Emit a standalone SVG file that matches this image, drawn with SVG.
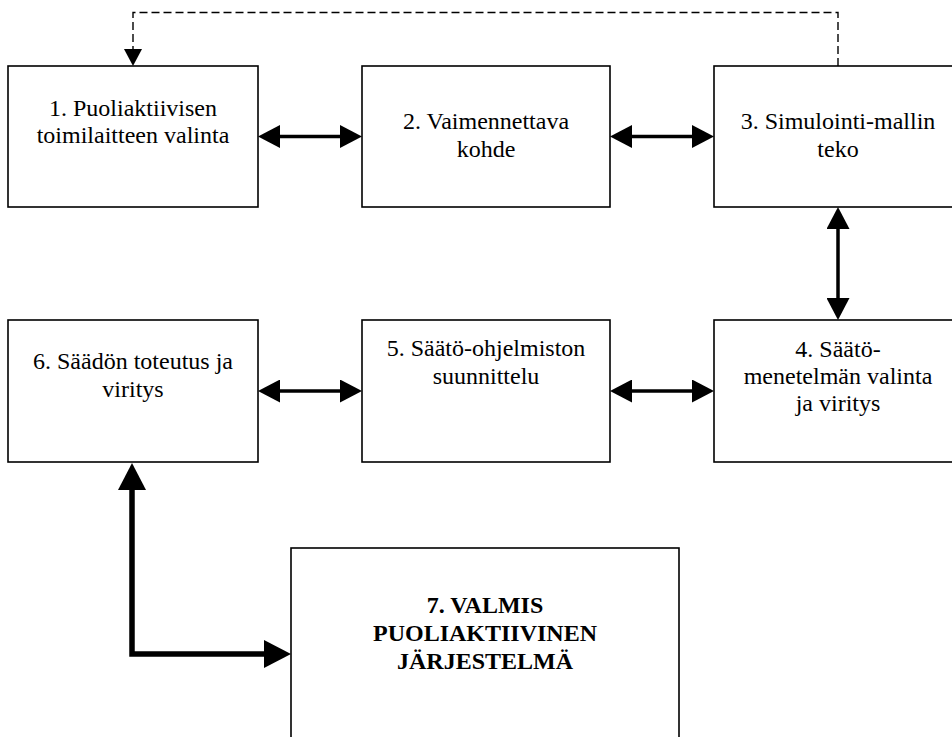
<svg xmlns="http://www.w3.org/2000/svg" width="952" height="737" viewBox="0 0 952 737">
<style>
.box{fill:#fff;stroke:#000;stroke-width:1.6}
.t{font-family:'Liberation Serif','Times New Roman',serif;font-size:24px;fill:#000;text-anchor:middle}
.b{font-weight:bold}
.c{fill:none;stroke:#000;stroke-width:3.5}
.cb{fill:none;stroke:#000;stroke-width:5.5;stroke-linejoin:miter}
.d{fill:none;stroke:#000;stroke-width:1.4;stroke-dasharray:8 4}
</style>
<defs>
<marker id="h" viewBox="0 0 22 23" markerWidth="22" markerHeight="23" refX="1" refY="11.5" markerUnits="userSpaceOnUse" orient="auto-start-reverse"><path d="M0,0 L22,11.5 L0,23 z" fill="#000"/></marker>
<marker id="H" viewBox="0 0 27 28" markerWidth="27" markerHeight="28" refX="1" refY="14" markerUnits="userSpaceOnUse" orient="auto-start-reverse"><path d="M0,0 L27,14 L0,28 z" fill="#000"/></marker>
<marker id="s" viewBox="0 0 17 18" markerWidth="17" markerHeight="18" refX="1" refY="9" markerUnits="userSpaceOnUse" orient="auto"><path d="M0,0 L17,9 L0,18 z" fill="#000"/></marker>
</defs>
<rect width="952" height="737" fill="#fff"/>
<g id="connectors">
<path class="d" d="M838,66 V12.5 H133 V50" marker-end="url(#s)"/>
<line class="c" x1="279" y1="136.5" x2="341" y2="136.5" marker-start="url(#h)" marker-end="url(#h)"/>
<line class="c" x1="631" y1="136.5" x2="693" y2="136.5" marker-start="url(#h)" marker-end="url(#h)"/>
<line class="c" x1="838" y1="228" x2="838" y2="299" marker-start="url(#h)" marker-end="url(#h)"/>
<line class="c" x1="279" y1="391" x2="341" y2="391" marker-start="url(#h)" marker-end="url(#h)"/>
<line class="c" x1="631" y1="391" x2="693" y2="391" marker-start="url(#h)" marker-end="url(#h)"/>
<path class="cb" d="M132,489 V654 H265" marker-start="url(#H)" marker-end="url(#H)"/>
</g>
<g id="n1"><rect class="box" x="8" y="66" width="250" height="141"/>
<text class="t" x="133" y="116">1. Puoliaktiivisen</text><text class="t" x="133" y="143">toimilaitteen valinta</text></g>
<g id="n2"><rect class="box" x="362" y="66" width="248" height="141"/>
<text class="t" x="486" y="129">2. Vaimennettava</text><text class="t" x="486" y="157">kohde</text></g>
<g id="n3"><rect class="box" x="714" y="66" width="250" height="141"/>
<text class="t" x="838" y="129">3. Simulointi-mallin</text><text class="t" x="838" y="157">teko</text></g>
<g id="n4"><rect class="box" x="714" y="320" width="250" height="142"/>
<text class="t" x="838" y="357">4. Säätö-</text><text class="t" x="838" y="384">menetelmän valinta</text><text class="t" x="838" y="411">ja viritys</text></g>
<g id="n5"><rect class="box" x="362" y="320" width="248" height="142"/>
<text class="t" x="486" y="356">5. Säätö-ohjelmiston</text><text class="t" x="486" y="384">suunnittelu</text></g>
<g id="n6"><rect class="box" x="8" y="320" width="250" height="142"/>
<text class="t" x="133" y="369">6. Säädön toteutus ja</text><text class="t" x="133" y="397">viritys</text></g>
<g id="n7"><rect class="box" x="291" y="548" width="388" height="200"/>
<text class="t b" x="485" y="613">7. VALMIS</text><text class="t b" x="485" y="641">PUOLIAKTIIVINEN</text><text class="t b" x="485" y="669">JÄRJESTELMÄ</text></g>
</svg>
